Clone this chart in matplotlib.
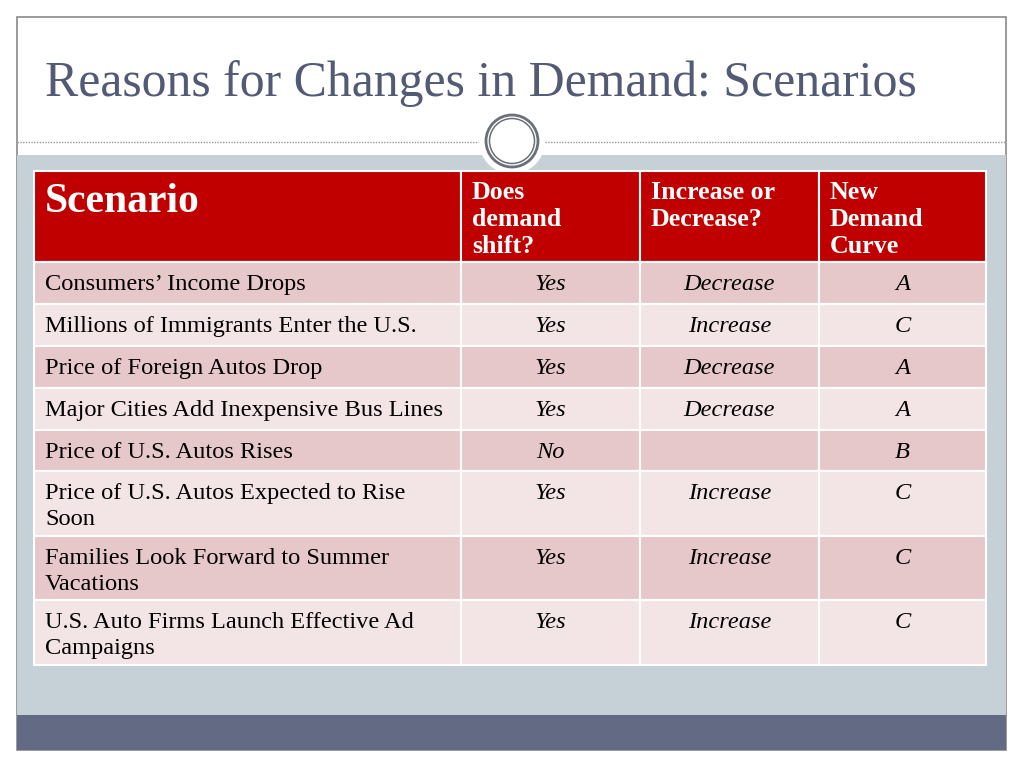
import matplotlib.pyplot as plt
from matplotlib.patches import Rectangle, Circle

# table content
headers = ["Scenario", "Does\ndemand\nshift?", "Increase or\nDecrease?", "New\nDemand\nCurve"]
scenarios = ["Consumers\u2019 Income Drops",
             "Millions of Immigrants Enter the U.S.",
             "Price of Foreign Autos Drop",
             "Major Cities Add Inexpensive Bus Lines",
             "Price of U.S. Autos Rises",
             "Price of U.S. Autos Expected to Rise\nSoon",
             "Families Look Forward to Summer\nVacations",
             "U.S. Auto Firms Launch Effective Ad\nCampaigns"]
shifts = ["Yes", "Yes", "Yes", "Yes", "No", "Yes", "Yes", "Yes"]
directions = ["Decrease", "Increase", "Decrease", "Decrease", "", "Increase", "Increase", "Increase"]
curves = ["A", "C", "A", "A", "B", "C", "C", "C"]

title = "Reasons for Changes in Demand: Scenarios"

# layout in pixels
col_x = [34, 461, 640, 819, 986]
row_y = [171, 262, 304, 346, 388, 430, 471, 536, 600, 665]

red = "#c00000"
dark_pink = "#e7c8ca"
light_pink = "#f3e5e6"
serif = "Liberation Serif"

fig = plt.figure(figsize=(10.24, 7.68), dpi=100)
ax = fig.add_axes([0, 0, 1, 1])
ax.set_xlim(0, 1024)
ax.set_ylim(768, 0)
ax.axis("off")

# slide background
ax.add_patch(Rectangle((17, 17), 989, 733, facecolor="white", edgecolor="#8a8a8a", lw=1.2, zorder=0))
ax.add_patch(Rectangle((17, 155), 989, 560, facecolor="#c5d1d6", edgecolor="none", zorder=1))
ax.add_patch(Rectangle((17, 715), 989, 35, facecolor="#636b84", edgecolor="none", zorder=1))

# dotted rule with circle ornament
ax.plot([17, 480], [142, 142], ls=(0, (1, 1)), color="#9a9a9a", lw=1, zorder=2)
ax.plot([545, 1006], [142, 142], ls=(0, (1, 1)), color="#9a9a9a", lw=1, zorder=2)
ax.add_patch(Circle((512, 141), 33, facecolor="white", edgecolor="none", zorder=3))
ax.add_patch(Circle((512, 141), 26, facecolor="none", edgecolor="#6b6f78", lw=2.0, zorder=4))
ax.add_patch(Circle((512, 141), 22.5, facecolor="none", edgecolor="#6b6f78", lw=1.1, zorder=4))

ax.text(45, 84, title, fontsize=35.8, family=serif, color="#525a75", va="center", ha="left", zorder=5)

# table cells
for r in range(len(row_y) - 1):
    if r == 0:
        fc = red
    elif r % 2 == 1:
        fc = dark_pink
    else:
        fc = light_pink
    for c in range(len(col_x) - 1):
        ax.add_patch(Rectangle((col_x[c], row_y[r]), col_x[c + 1] - col_x[c], row_y[r + 1] - row_y[r],
                               facecolor=fc, edgecolor="white", lw=1.5, zorder=5))

# header text
ax.text(col_x[0] + 11, row_y[0] + 31, headers[0], fontsize=30, family=serif, weight="bold",
        color="white", va="center", ha="left", zorder=6)
for c in range(1, 4):
    ax.text(col_x[c] + 11, row_y[0] + 10, headers[c], fontsize=18.6, family=serif, weight="bold",
            color="white", va="top", ha="left", multialignment="left", linespacing=1.22, zorder=6)

# body text
for i in range(len(scenarios)):
    top = row_y[i + 1]
    ax.text(col_x[0] + 11, top + 12, scenarios[i], fontsize=17.6, family=serif, color="black",
            va="top", ha="left", linespacing=1.33, zorder=6)
    for c, vals in zip([1, 2, 3], [shifts, directions, curves]):
        ax.text((col_x[c] + col_x[c + 1]) / 2, top + 12, vals[i], fontsize=17.6, family=serif,
                style="italic", color="black", va="top", ha="center", zorder=6)

fig.savefig("out.png", dpi=100)
